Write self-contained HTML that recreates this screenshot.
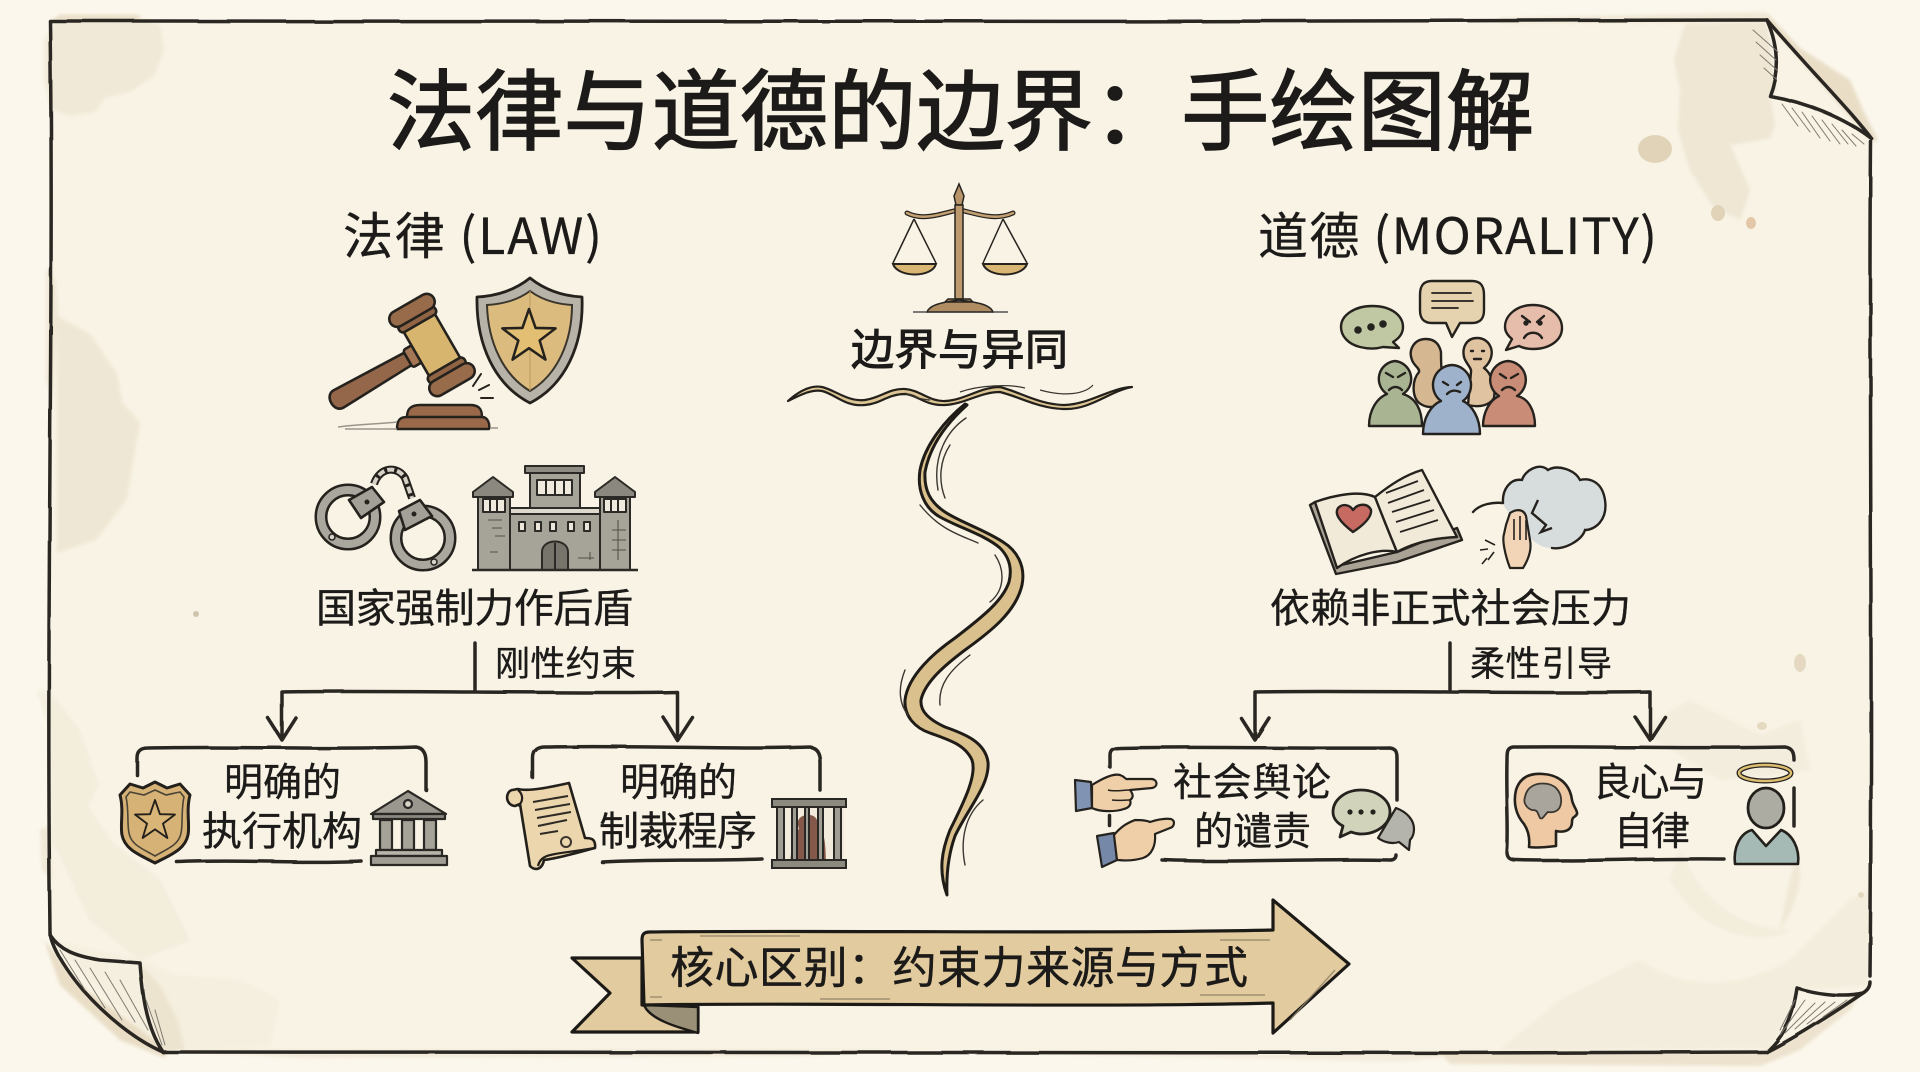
<!DOCTYPE html>
<html lang="zh"><head><meta charset="utf-8"><title>法律与道德的边界:手绘图解</title>
<style>
html,body{margin:0;padding:0;background:#fbf7ec;width:1920px;height:1072px;overflow:hidden}
svg{display:block}
text{font-family:"Noto Sans CJK SC","WenQuanYi Zen Hei","Liberation Sans",sans-serif;fill:#1c1b19;stroke:#1c1b19;stroke-width:.35}
.tc{font-family:"Noto Sans CJK TC","Noto Sans CJK SC",sans-serif}
.line{fill:none;stroke:#2a2824;stroke-width:3.5;stroke-linecap:round;stroke-linejoin:round}
.thin{fill:none;stroke:#3a3630;stroke-width:1.5;stroke-linecap:round}
</style></head><body>
<svg xmlns="http://www.w3.org/2000/svg" width="1920" height="1072" viewBox="0 0 1920 1072">
<defs>
<filter id="soft" x="-10%" y="-10%" width="120%" height="120%"><feGaussianBlur stdDeviation="1.6"/></filter>
<filter id="rough" x="-2%" y="-2%" width="104%" height="104%"><feTurbulence type="fractalNoise" baseFrequency=".02" numOctaves="1" seed="4"/><feDisplacementMap in="SourceGraphic" scale="2.5"/></filter>
</defs>
<rect width="1920" height="1072" fill="#fbf7ec"/>
<!-- paper -->
<path d="M50 21H1767L1872 139L1871 980L1863 993L1767 1052H163L123 1027L83 990L55 950L50 930Z" fill="#f8f3e5"/>
<!-- outside shade -->
<g fill="#e3d5ba" opacity=".75" filter="url(#soft)">
<path d="M1767 13L1800 48L1850 80L1864 112L1878 140L1872 142L1767 22Z"/>
<path d="M44 940L60 985L120 1040L165 1058L168 1050L80 985Z"/>
<path d="M165 1050H900L800 1056L300 1058Z" opacity=".5"/>
<path d="M1760 1052L1790 1040L1860 992L1852 1008L1800 1050L1760 1066L1450 1064L1440 1052Z" opacity=".8"/>
<path d="M60 15H140L138 21H50Z"/>
<path d="M1500 18L1767 12L1766 22L1500 23Z" opacity=".6"/>
<path d="M950 1052H1500L1400 1062Z" opacity=".4"/>
</g>
<!-- stains -->
<g fill="#ece3cf" filter="url(#soft)">
<path d="M44 40L60 16L130 15L160 25L164 50L155 75L130 92L105 98L95 112L70 116L50 108L44 80Z" opacity=".6"/>
<path d="M1685 24L1767 22L1776 90L1770 96L1775 125L1770 138L1730 145L1750 190L1740 220L1712 205L1690 170L1678 130L1680 90L1674 60Z" opacity=".8"/>
<path d="M57 316L90 334L117 374L122 402L140 423L135 450L127 499L97 539L57 553Z" opacity=".75"/>
<path d="M46 268L56 280L58 316L52 400L46 380Z" opacity=".7"/>
<path d="M37 691L48 690L80 731L98 785L88 807L113 843L160 880L190 940L140 960L90 920L52 840L50 730Z" opacity=".4"/>
<path d="M40 830L50 825L52 880L42 870Z" opacity=".7"/>
<path d="M140 964L146 1000L163 1052L185 1050L178 1020L160 985Z" opacity=".9"/>
<path d="M52 940L140 960L175 975L240 980L280 1000L270 1046L170 1050L130 1020L70 960Z" opacity=".2"/>
<path d="M1640 960C1680 990 1740 990 1790 960L1850 900L1870 890L1868 985L1800 990L1770 1048L1500 1050L1560 1000Z" opacity=".35"/>
<path d="M1640 730L1690 700L1760 735L1800 720L1810 770L1720 780Z" opacity=".35"/>
<path d="M1680 850C1700 900 1740 930 1790 930C1780 940 1710 950 1670 880Z" opacity=".4"/>
<path d="M1790 880C1795 860 1800 850 1800 880C1795 910 1780 930 1780 930Z" opacity=".7"/>
</g>
<g fill="#e0d3b8">
<ellipse cx="1655" cy="149" rx="17" ry="14"/><ellipse cx="1718" cy="213" rx="7" ry="8"/>
<ellipse cx="1751" cy="223" rx="5" ry="6" fill="#e2c8a8"/><ellipse cx="1800" cy="663" rx="6" ry="9" opacity=".8"/>
<ellipse cx="1762" cy="726" rx="5" ry="4" opacity=".8"/><ellipse cx="1861" cy="895" rx="3" ry="3" opacity=".8"/>
<circle cx="196" cy="614" r="3" fill="#cfc4ab"/>
</g>
<!-- border -->
<g filter="url(#rough)">
<path class="line" d="M50 21C500 18 1200 24 1767 20"/>
<path class="line" d="M50 22C54 300 46 600 50 932"/>
<path class="line" d="M163 1052C600 1050 1200 1055 1767 1052"/>
<path class="line" d="M1871 142C1869 400 1873 700 1870 976"/>
<path class="line" d="M1767 20C1810 70 1850 110 1872 139"/>
<path class="line" d="M1767 20C1780 50 1778 75 1770 96C1805 102 1845 118 1872 139"/>
<path class="line" d="M50 933C52 950 70 975 83 990C105 1015 135 1040 163 1052"/>
<path class="line" d="M50 935C60 950 75 956 100 960L140 963C142 990 145 1025 163 1052"/>
<path class="line" d="M1767 1052C1800 1035 1835 1012 1863 993C1868 990 1870 986 1870 982"/>
<path class="line" d="M1797 988C1820 995 1845 997 1863 993M1797 988C1793 1015 1785 1035 1769 1050"/>
</g>
<g class="thin" style="stroke:#807a70;stroke-width:1">
<path d="M1753 30l25 22M1756 42l20 18M1760 55l17 15M1764 68l12 11M1782 104l16 22M1792 108l18 24M1802 112l18 26M1812 116l18 25M1822 120l18 24M1832 124l16 20M1842 130l14 16M1852 134l12 10"/>
<path d="M60 950l25 40M75 960l30 48M90 968l32 52M105 972l30 50M120 980l28 50M146 1000l16 45M155 1010l10 35"/>
<path d="M1795 1000l-15 30M1805 1000l-25 35M1815 1003l-30 30M1825 1002l-30 27M1835 1002l-28 22M1847 1000l-24 17"/>
</g>

<!-- title -->
<text x="387" y="143" font-size="88" textLength="1147" style="stroke-width:1.6">法律与道德的边界<tspan class="tc">&#xFF1A;</tspan>手绘图解</text>
<text x="343" y="254" font-size="50" textLength="259">法律 (LAW)</text>
<text x="1258" y="254" font-size="50" textLength="399">道德 (MORALITY)</text>

<!-- scales -->
<g>
<path d="M907 213C925 222 945 212 959 210C973 212 993 222 1013 213" fill="none" stroke="#26231f" stroke-width="5" stroke-linecap="round"/>
<path d="M907 213C925 222 945 212 959 210C973 212 993 222 1013 213" fill="none" stroke="#c2a071" stroke-width="2.5" stroke-linecap="round"/>
<path d="M959 184L954 196L956 205H962L964 196Z" fill="#b8946a" stroke="#26231f" stroke-width="1.5"/>
<rect x="955" y="205" width="8" height="94" fill="#bd9a6e" stroke="#26231f" stroke-width="1.5"/>
<path d="M948 299H970L973 302H945ZM927 312C930 304 945 302 959 300C975 302 990 304 993 312Z" fill="#b08c62" stroke="#26231f" stroke-width="1.5"/>
<path d="M913 312H1008" stroke="#333" stroke-width="1.2"/>
<path d="M914 219L893 263M914 219L936 263M1003 219L983 263M1003 219L1027 263" stroke="#26231f" stroke-width="1.5" fill="none"/>
<path d="M893 264H936C932 278 898 278 893 264ZM983 264H1027C1022 278 988 278 983 264Z" fill="#d9b673" stroke="#26231f" stroke-width="2"/>
</g>
<text x="851" y="365" font-size="43" textLength="217" style="stroke-width:1.1">边界与异同</text>
<!-- wavy line -->
<path d="M788 401C800 390 812 385 822 387C835 390 848 402 865 400C880 398 890 388 905 389C920 390 930 402 945 401C965 400 980 387 1000 387C1020 392 1040 405 1065 405C1090 404 1110 388 1132 387C1110 391 1090 410 1065 409C1040 409 1020 397 1000 392C980 392 965 404 945 405C925 406 918 395 905 394C888 394 880 404 865 405C845 407 835 394 822 391C812 389 800 395 788 401Z" fill="#dcc593" stroke="#23201c" stroke-width="2.2" stroke-linejoin="round"/>
<path d="M960 392C980 385 1010 384 1025 388M1040 390C1065 397 1085 394 1093 385M905 393C920 400 930 400 930 400" fill="none" stroke="#3a3630" stroke-width="1.2"/>
<!-- river -->
<path d="M965 404C945 420 925 445 920 470C917 490 924 508 940 517C960 528 985 535 1000 548C1010 558 1012 570 1009 582C1003 600 985 615 955 638C935 652 908 675 905 700C904 716 915 728 930 733C950 740 965 745 972 760C977 775 965 800 950 830C942 850 938 870 947 895C946 870 950 850 955 836C968 808 990 785 988 762C985 742 965 734 945 727C930 720 920 712 921 700C925 682 945 665 965 650C990 632 1016 612 1022 585C1026 565 1016 550 1003 542C985 530 960 522 945 512C930 502 924 490 925 472C930 445 948 422 967 405Z" fill="#d9c08c" stroke="#1f1c18" stroke-width="3" stroke-linejoin="round"/>
<g class="thin" style="stroke-width:1.4">
<path d="M966 418C948 430 932 455 938 490M950 445C940 460 938 480 945 498M920 505C940 530 960 535 978 543M995 555C1005 570 1005 590 990 602M970 655C950 670 938 685 940 705M905 670C897 690 900 705 908 715M983 800C965 815 960 840 965 865"/>
</g>

<!-- gavel -->
<g transform="translate(432,345) rotate(-30)" stroke="#25221e" stroke-width="2.6" stroke-linejoin="round">
<path d="M-108 -10C-119 -10 -119 10 -108 10L-22 7V-7Z" fill="#94674a"/>
<rect x="-28" y="-10" width="12" height="20" rx="3" fill="#a47653"/>
<rect x="-18" y="-26" width="36" height="52" fill="#d8b56f"/>
<rect x="-21" y="-34" width="42" height="9" rx="4" fill="#8f6344"/>
<rect x="-21" y="25" width="42" height="9" rx="4" fill="#8f6344"/>
<rect x="-25" y="-48" width="50" height="16" rx="8" fill="#986b4b"/>
<rect x="-25" y="32" width="50" height="16" rx="8" fill="#986b4b"/>
</g>
<path d="M407 417C407 408 412 405 420 405H470C478 405 482 408 482 417ZM397 429C397 420 400 417 407 417H482C488 417 490 424 489 429Z" fill="#99694a" stroke="#25221e" stroke-width="2.4" stroke-linejoin="round"/>
<path d="M338 427C360 424 380 424 397 422M345 429H397M490 428H498" stroke="#9a958b" stroke-width="1.5" fill="none"/>
<path d="M473 386L481 374M479 390L489 385M481 398H493" stroke="#26231f" stroke-width="2" stroke-linecap="round" fill="none"/>
<!-- shield -->
<path d="M530 278C515 290 497 296 477 297C476 345 495 385 530 403C565 385 584 345 582 297C563 296 545 290 530 278Z" fill="#b7b3a8" stroke="#25221e" stroke-width="2.8" stroke-linejoin="round"/>
<path d="M530 291C518 300 504 304 487 305C488 342 503 375 530 391C557 375 572 342 572 305C556 304 542 300 530 291Z" fill="#dcbc7e" stroke="#3a352d" stroke-width="2"/>
<path d="M530 291V391" stroke="#bb9a60" stroke-width="1"/>
<polygon transform="translate(529,337) scale(28)" points="0,-1 .235,-.324 .951,-.309 .38,.124 .588,.809 0,.4 -.588,.809 -.38,.124 -.951,-.309 -.235,-.324" fill="#e2bf72" stroke="#25221e" stroke-width=".09" stroke-linejoin="round"/>

<!-- handcuffs -->
<g fill="none" stroke-linejoin="round">
<circle cx="348" cy="517" r="27" stroke="#25221e" stroke-width="13"/><circle cx="348" cy="517" r="27" stroke="#aaa79f" stroke-width="8"/>
<circle cx="423" cy="538" r="27" stroke="#25221e" stroke-width="13"/><circle cx="423" cy="538" r="27" stroke="#aaa79f" stroke-width="8"/>
<path d="M374 484C380 466 398 466 405 478L412 498" stroke="#25221e" stroke-width="8"/>
<path d="M374 484C380 466 398 466 405 478L412 498" stroke="#d5d1c6" stroke-width="4" stroke-dasharray="7 3"/>
<path d="M349 500L372 487L384 502L361 518Z" fill="#a3a098" stroke="#25221e" stroke-width="2.6"/>
<path d="M399 511L420 500L432 516L405 530Z" fill="#a3a098" stroke="#25221e" stroke-width="2.6"/>
<circle cx="367" cy="502" r="2.5" fill="#25221e"/><circle cx="414" cy="514" r="2.5" fill="#25221e"/>
<circle cx="332" cy="537" r="3" fill="#d8d4c9" stroke="#25221e" stroke-width="1.5"/><circle cx="434" cy="562" r="3" fill="#d8d4c9" stroke="#25221e" stroke-width="1.5"/>
</g>
<!-- prison -->
<g stroke="#2c2a26" stroke-width="2" fill="#a6a399" stroke-linejoin="round">
<rect x="510" y="513" width="90" height="57"/>
<rect x="478" y="493" width="32" height="77"/><rect x="600" y="493" width="30" height="77"/>
<rect x="530" y="473" width="50" height="40"/>
<rect x="525" y="466" width="59" height="7" fill="#8f8c83"/>
<path d="M473 492L493 477L513 492V497H473ZM595 492L615 477L635 492V497H595Z" fill="#8b887f"/>
<rect x="537" y="480" width="35" height="15" fill="#efeadd"/><path d="M546 480V495M555 480V495M564 480V495"/>
<rect x="483" y="499" width="22" height="13" fill="#efeadd"/><path d="M490 499V512M497 499V512"/>
<rect x="604" y="499" width="22" height="13" fill="#efeadd"/><path d="M611 499V512M618 499V512"/>
<rect x="510" y="508" width="90" height="6" fill="#ddd9cd"/>
<g fill="#ece7da"><rect x="519" y="522" width="6" height="9"/><rect x="535" y="522" width="6" height="9"/><rect x="550" y="522" width="6" height="9"/><rect x="568" y="522" width="6" height="9"/><rect x="584" y="522" width="6" height="9"/></g>
<path d="M542 570V552C542 538 568 538 568 552V570Z" fill="#77746b"/><path d="M555 543V570"/>
<path d="M472 570H638" stroke-width="2.4"/>
<path d="M488 520h14M492 528h10M495 536h10M490 552h8M618 520v40M612 530h14M612 540h14M612 550h14M578 558h16M590 552v8" fill="none" stroke-width="1.1" stroke="#55524a"/>
</g>
<text x="316" y="622" font-size="40" textLength="317">国家强制力作后盾</text>
<text x="1270" y="622" font-size="40" textLength="361">依赖非正式社会压力</text>
<text x="495" y="676" font-size="35" textLength="141">刚性约束</text>
<text x="1470" y="676" font-size="35" textLength="142">柔性引导</text>

<!-- crowd -->
<g stroke="#25221e" stroke-width="2.4" stroke-linejoin="round" stroke-linecap="round">
<path d="M1372 306C1392 306 1403 316 1403 327C1403 334 1398 339 1393 342L1399 348L1383 347C1376 349 1368 349 1360 347C1348 344 1341 336 1341 327C1341 315 1355 306 1372 306Z" fill="#c0c8a3"/>
<circle cx="1358" cy="330" r="2.6" fill="#25221e"/><circle cx="1371" cy="327" r="2.6" fill="#25221e"/><circle cx="1383" cy="324" r="2.6" fill="#25221e"/>
<path d="M1432 281H1472C1480 281 1484 285 1484 295V310C1484 319 1480 323 1472 323H1460L1452 337L1446 323H1432C1424 323 1420 319 1420 310V295C1420 285 1424 281 1432 281Z" fill="#e5d3b0"/>
<path d="M1432 293H1471M1432 301H1473M1432 308H1458" fill="none" stroke-width="1.8"/>
<path d="M1533 305C1550 305 1562 316 1562 328C1562 340 1550 349 1533 349C1528 349 1523 348 1519 346L1506 350L1512 339C1507 335 1505 331 1505 327C1505 315 1517 305 1533 305Z" fill="#e6bdaa"/>
<path d="M1522 316L1530 322M1544 316L1537 322M1524 338C1528 331 1538 331 1542 338" fill="none"/><circle cx="1526" cy="323" r="1.5" fill="#25221e"/><circle cx="1540" cy="323" r="1.5" fill="#25221e"/>
<path d="M1426 339C1414 339 1408 350 1412 360C1414 366 1420 368 1419 372C1412 380 1412 395 1418 402C1425 408 1432 408 1440 405L1442 372C1441 368 1441 360 1441 352C1439 343 1434 339 1426 339Z" fill="#d5b792"/>
<path d="M1477 338C1466 338 1462 348 1464 357C1466 364 1472 368 1471 372L1468 405C1480 408 1490 405 1494 398C1496 385 1490 372 1484 368C1491 362 1493 354 1491 348C1489 342 1484 338 1477 338Z" fill="#e0c3a0"/>
<path d="M1471 351h2M1482 351h2M1474 359h7" fill="none"/>
<path d="M1395 361A18 18 0 0 0 1387 394C1377 398 1369 410 1369 426H1422C1422 410 1416 398 1403 394A18 18 0 0 0 1395 361Z" fill="#a9b492"/>
<path d="M1508 361A19 19 0 0 0 1499 396C1490 400 1483 412 1483 426H1535C1535 410 1528 398 1517 396A19 19 0 0 0 1508 361Z" fill="#c98c76"/>
<path d="M1452 365A20 20 0 0 0 1441 401C1431 405 1423 418 1423 434H1480C1480 418 1472 405 1463 401A20 20 0 0 0 1452 365Z" fill="#9fb2cb"/>
<path d="M1386 373L1393 377M1405 373L1398 377M1389 390C1393 386 1398 386 1402 390M1500 374L1506 378M1518 374L1511 378M1502 390C1506 386 1511 386 1515 390M1443 382L1448 385M1457 385L1461 382M1447 394C1451 390 1456 390 1460 392" fill="none"/>
</g>
<!-- book -->
<g stroke="#25221e" stroke-width="2.4" stroke-linejoin="round">
<path d="M1310 505L1336 574L1397 562L1462 540L1457 528L1397 552L1337 566L1315 502Z" fill="#a9a295"/>
<path d="M1315 502C1335 495 1360 490 1375 497C1382 515 1390 535 1397 552C1380 548 1355 555 1337 568Z" fill="#f2ead9"/>
<path d="M1375 497C1390 485 1405 475 1422 470L1457 537C1435 538 1415 542 1397 552C1390 535 1382 515 1375 497Z" fill="#f2ead9"/>
<path d="M1353 532C1340 522 1334 514 1338 508C1343 503 1350 505 1353 510C1358 503 1368 503 1371 510C1372 518 1362 526 1353 532Z" fill="#c76a62"/>
<path d="M1386 493L1418 481M1388 503L1424 490M1392 512L1430 500M1396 522L1434 510M1400 532L1438 520" fill="none" stroke-width="1.8"/>
</g>
<!-- cloud -->
<path d="M1503 503C1502 490 1510 478 1522 480C1525 470 1540 462 1548 470C1558 464 1575 470 1580 480C1588 478 1602 480 1605 500C1608 520 1595 530 1585 530C1582 540 1565 550 1552 548C1540 548 1530 540 1525 530L1505 508Z" fill="#d7dcdd"/>
<path d="M1473 512C1480 504 1493 502 1503 503M1522 480C1525 470 1540 462 1548 470C1558 464 1575 470 1580 480C1588 478 1602 480 1605 500C1608 520 1595 530 1585 530C1582 540 1565 550 1552 548M1503 503C1502 490 1510 478 1522 480" fill="none" stroke="#25221e" stroke-width="2.4" stroke-linecap="round"/>
<path d="M1538 500L1532 513L1546 525L1541 532L1552 528" fill="none" stroke="#25221e" stroke-width="2.4"/>
<path d="M1510 568C1505 555 1502 540 1504 534L1506 525L1510 513C1518 508 1524 510 1526 516L1530 540C1532 550 1528 560 1523 568Z" fill="#f1d5b6" stroke="#25221e" stroke-width="2.2" stroke-linejoin="round"/>
<path d="M1514 519V540M1520 516V540M1526 520V540M1485 540l10 5M1480 550l8-1M1488 560l6-8M1482 564l5-6" stroke="#25221e" stroke-width="1.6" fill="none"/>

<!-- connectors -->
<g filter="url(#rough)">
<path class="line" d="M475 643V691M282 692C350 690 600 694 677 692M282 692V738M677 692V738M268 718L282 740L296 718M663 717L677 740L692 717"/>
<path class="line" d="M1450 643V691M1255 692C1350 690 1550 694 1650 692M1255 692V738M1650 692V738M1241 718L1255 740L1269 718M1635 717L1650 740L1665 717"/>
<path class="line" d="M137 775V758C137 750 142 748 148 748C230 746 340 750 416 747C424 748 426 755 426 762V790"/>
<path class="line" d="M177 862C240 859 300 864 361 861"/>
<path class="line" d="M533 778V758C533 750 538 747 545 747C640 745 730 750 810 747C818 748 820 755 820 762V790"/>
<path class="line" d="M602 862C660 859 710 861 762 859"/>
<path class="line" d="M1110 767V755C1110 749 1114 748 1120 748C1200 746 1300 749 1390 748C1396 749 1397 752 1397 758V800M1109 815V825"/>
<path class="line" d="M1162 860C1240 863 1320 858 1390 860C1394 860 1396 858 1396 855"/>
<path class="line" d="M1513 747C1600 746 1700 749 1785 747C1792 748 1794 752 1794 760M1794 788V826M1513 747C1507 748 1507 752 1507 760C1506 800 1509 830 1507 852C1507 858 1510 860 1516 860C1580 862 1650 858 1724 859"/>
</g>

<!-- badge -->
<path d="M155 782L167 788L180 784L190 795C186 810 190 825 188 835C185 850 170 855 155 863C140 855 125 850 122 835C120 825 124 810 120 795L130 784L143 788Z" fill="#d6b276" stroke="#23201c" stroke-width="3" stroke-linejoin="round"/>
<path d="M155 790L166 795L180 792L184 797C181 810 183 825 181 833C179 845 167 849 155 856C143 849 131 845 129 833C127 825 129 810 126 797L130 792L144 795Z" fill="none" stroke="#4b4335" stroke-width="1.6"/>
<polygon transform="translate(155,821) scale(21)" points="0,-1 .235,-.324 .951,-.309 .38,.124 .588,.809 0,.4 -.588,.809 -.38,.124 -.951,-.309 -.235,-.324" fill="#d9b578" stroke="#23201c" stroke-width=".09" stroke-linejoin="round"/>
<!-- bank -->
<g stroke="#2a2824" stroke-width="2.2" fill="#a5a298" stroke-linejoin="round">
<path d="M408 791L446 814H371Z" fill="#9a978e"/>
<circle cx="408" cy="804" r="4" fill="#d7d2c5"/>
<rect x="373" y="814" width="72" height="5" fill="#8b887f"/>
<rect x="380" y="820" width="12" height="30"/><rect x="402" y="820" width="12" height="30"/><rect x="424" y="820" width="12" height="30"/>
<rect x="376" y="850" width="66" height="6" fill="#b6b3a9"/><rect x="371" y="856" width="76" height="9" fill="#a09d94"/>
</g>
<text x="224" y="796" font-size="39" textLength="117">明确的</text>
<text x="202" y="845" font-size="40" textLength="160">执行机构</text>
<text x="620" y="796" font-size="39" textLength="117">明确的</text>
<text x="599" y="845" font-size="40" textLength="158">制裁程序</text>
<!-- scroll -->
<path d="M512 790C505 792 505 805 515 806L520 804L530 866C535 871 542 870 544 860C560 858 580 852 595 848C596 838 590 838 585 838L569 783C555 786 530 792 518 789C516 789 514 790 512 790Z" fill="#ecd6ad" stroke="#23201c" stroke-width="2.6" stroke-linejoin="round"/>
<path d="M538 866C541 852 555 855 595 848M518 790C524 795 523 802 518 806" fill="none" stroke="#23201c" stroke-width="2.2"/>
<path d="M533 802L568 796M535 810L570 804M537 818L571 812M538 826L567 820M540 834L558 831" stroke="#2e2a25" stroke-width="2" fill="none"/>
<circle cx="566" cy="842" r="5" fill="none" stroke="#3a352d" stroke-width="2"/>
<!-- cage -->
<rect x="776" y="800" width="68" height="66" fill="#f2ebdc"/>
<path d="M790 866L792 840C792 833 796 832 799 829C795 818 802 815 809 815C815 815 819 820 819 829C823 832 826 836 826 866Z" fill="#84594a"/>
<g stroke="#2a2824" stroke-width="2" fill="#a09d94">
<rect x="777" y="806" width="7" height="55"/><rect x="792" y="806" width="5" height="55"/><rect x="805" y="806" width="4" height="55"/><rect x="818" y="806" width="5" height="55"/><rect x="834" y="806" width="7" height="55"/>
<rect x="772" y="799" width="74" height="8" fill="#8c897f"/><rect x="772" y="860" width="74" height="8" fill="#8c897f"/>
</g>

<!-- hands -->
<g stroke="#25221e" stroke-width="2.2" stroke-linejoin="round">
<path d="M1075 780L1091 782L1092 808L1076 811Z" fill="#8193b3"/>
<path d="M1092 785C1100 780 1112 773 1120 775C1126 777 1125 780 1128 779L1152 779C1158 780 1158 787 1152 788L1130 790C1134 795 1133 798 1130 800C1132 805 1128 808 1124 809C1115 812 1100 812 1092 808Z" fill="#efcfa8"/>
<path d="M1108 790C1115 792 1122 790 1130 790M1112 800C1118 801 1124 800 1130 800" fill="none" stroke-width="1.5"/>
<path d="M1097 836L1114 833L1117 860L1102 867Z" fill="#7588a8"/>
<path d="M1114 835C1122 825 1130 822 1135 820C1140 820 1146 820 1150 822C1156 820 1164 818 1171 819C1176 821 1174 827 1170 828L1155 834C1156 845 1152 855 1143 858C1130 862 1120 860 1117 860Z" fill="#efcfa8"/>
</g>
<!-- speech -->
<path d="M1396 808C1407 812 1414 820 1414 829C1414 834 1412 838 1410 840L1409 850L1399 842C1393 844 1385 843 1378 838Z" fill="#b4b3ac" stroke="#25221e" stroke-width="2.2" stroke-linejoin="round"/>
<path d="M1361 790C1377 790 1390 800 1390 812C1390 824 1377 834 1361 834C1357 834 1354 833 1351 832L1340 837L1343 826C1337 823 1333 818 1333 812C1333 800 1345 790 1361 790Z" fill="#d1d4bb" stroke="#25221e" stroke-width="2.8" stroke-linejoin="round"/>
<circle cx="1350" cy="812" r="2.6" fill="#25221e"/><circle cx="1361" cy="812" r="2.6" fill="#25221e"/><circle cx="1373" cy="812" r="2.6" fill="#25221e"/>
<text x="1173" y="796" font-size="39" textLength="158">社会舆论</text>
<text x="1194" y="845" font-size="39" textLength="117">的谴责</text>
<!-- head -->
<path d="M1529 847C1530 838 1528 830 1524 824C1516 815 1513 803 1516 790C1520 777 1530 773 1543 774C1560 775 1570 785 1572 800C1573 806 1578 811 1577 814C1575 818 1572 816 1572 822C1572 830 1565 833 1556 831V846C1548 847 1535 848 1529 847Z" fill="#eec9a4" stroke="#25221e" stroke-width="2.6" stroke-linejoin="round"/>
<path d="M1525 797C1527 786 1537 782 1548 784C1558 786 1562 795 1561 803C1560 811 1554 813 1548 812C1544 815 1543 820 1540 818C1537 812 1538 810 1532 810C1526 808 1523 802 1525 797Z" fill="#a9a59d" stroke="#3a3630" stroke-width="1.8"/>
<text x="1593" y="796" font-size="39" textLength="114">良心与</text>
<text x="1614" y="845" font-size="39" textLength="76">自律</text>
<!-- person -->
<ellipse cx="1765" cy="773" rx="26" ry="8" fill="none" stroke="#23201c" stroke-width="5"/>
<ellipse cx="1765" cy="773" rx="26" ry="8" fill="none" stroke="#dcbd72" stroke-width="2.5"/>
<ellipse cx="1766" cy="808" rx="18" ry="20" fill="#acaca2" stroke="#23201c" stroke-width="2.8"/>
<path d="M1735 864C1733 848 1740 833 1752 830L1766 846L1781 830C1792 834 1800 848 1798 864Z" fill="#a5bab5" stroke="#23201c" stroke-width="2.6" stroke-linejoin="round"/>

<!-- banner -->
<path d="M642 958H572L610 993L572 1032H698V1007L642 1005Z" fill="#e2cb9f" stroke="#1c1a17" stroke-width="3.2" stroke-linejoin="round"/>
<path d="M644 1005L698 1007V1033C680 1028 650 1020 644 1005Z" fill="#9a9078" stroke="#1c1a17" stroke-width="2.4" stroke-linejoin="round"/>
<path d="M642 940C642 934 644 932 650 932C800 930 1100 934 1273 930V900L1349 964L1273 1033V1003C1100 1008 800 1002 644 1005Z" fill="#e2cb9f" stroke="#1c1a17" stroke-width="3.2" stroke-linejoin="round"/>
<path d="M700 936H800M1220 940H1270M820 999H890M1200 995H1265M650 940h12M650 997h12M1290 1020L1335 970" stroke="#8e8166" stroke-width="1.5" fill="none" opacity=".8"/>
<text x="670" y="983" font-size="44" textLength="578" style="stroke-width:.5">核心区别<tspan class="tc">&#xFF1A;</tspan>约束力来源与方式</text>
</svg>
</body></html>
